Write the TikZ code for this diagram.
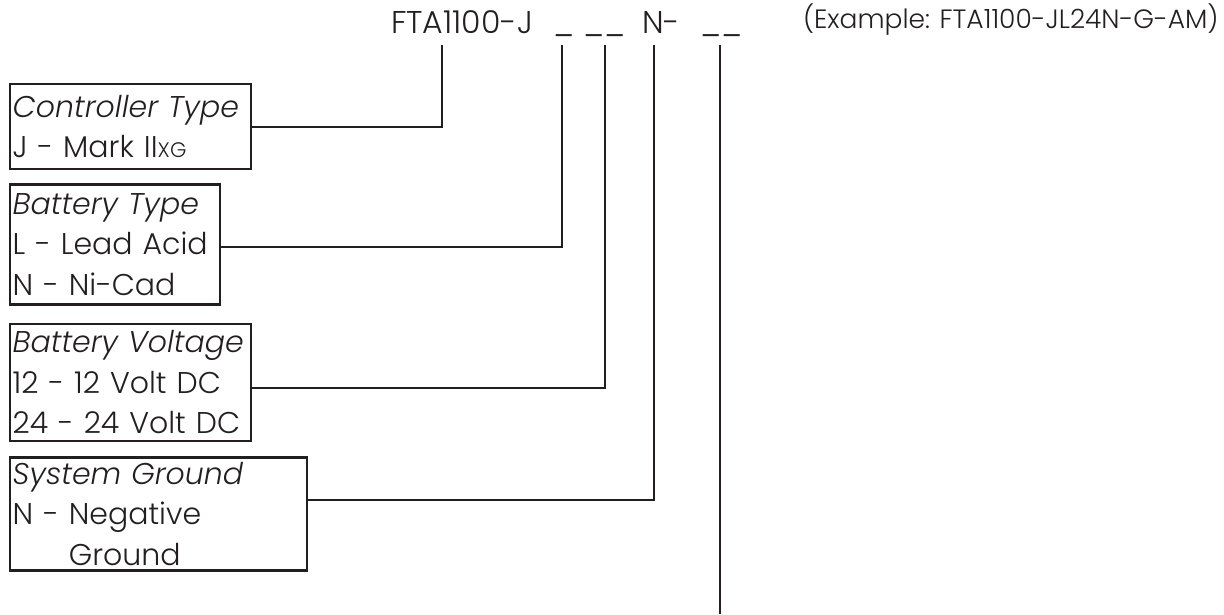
\documentclass[tikz,border=0pt]{standalone}
\usepackage{fontspec}
\setmainfont{Poppins}[UprightFont=* Light, ItalicFont=* Light Italic]
\usetikzlibrary{positioning}
\definecolor{ink}{HTML}{231F20}

\begin{document}
\begin{tikzpicture}[x=1pt, y=-1pt, color=ink, line width=2pt,
  codetext/.style={anchor=base west, inner sep=0pt, font=\fontsize{31.5}{36}\selectfont},
  optbox/.style={draw, line width=2.4pt, anchor=north west, align=left, inner xsep=2.5pt, inner ysep=0pt, font=\fontsize{30}{40.5}\selectfont}]

  \useasboundingbox (0,0) rectangle (1224,614);

  % Part number
  \node[codetext] (code) at (390,33) {FTA1100-J};
  \node[codetext] (u1) at (552,33) {\_};
  \node[codetext] (u2) at (582,33) {\_\_};
  \node[codetext] (gnd) at (641,33) {N-};
  \node[codetext] (u4) at (699,33) {\_\_};
  \node[anchor=base west, inner sep=0pt, font=\fontsize{26.5}{30}\selectfont] (example) at (802,28) {(Example: FTA1100-JL24N-G-AM)};

  % Drop points
  \coordinate (d1) at (442,45);
  \coordinate (d2) at (562,45);
  \coordinate (d3) at (605,45);
  \coordinate (d4) at (654,45);
  \coordinate (d5) at (720,45);
  \coordinate (end) at (720,614);

  % Option boxes
  \node[optbox, text width=236pt, minimum height=85pt] (ctrl) at (9,83)
    {\textit{Controller Type}\\J - Mark II{\fontsize{21}{21}\selectfont XG}};
  \node[optbox, text width=205pt, minimum height=120pt, below=13pt of ctrl.south west, anchor=north west] (btype)
    {\textit{Battery Type}\\L - Lead Acid\\N - Ni-Cad};
  \node[optbox, text width=236pt, minimum height=117pt, below=17pt of btype.south west, anchor=north west] (volt)
    {\textit{Battery Voltage}\\12 - 12 Volt DC\\24 - 24 Volt DC};
  \node[optbox, text width=292pt, minimum height=113pt, below=14pt of volt.south west, anchor=north west] (sgnd)
    {\textit{System Ground}\\N - Negative\\\phantom{N - }Ground};

  % Connectors
  \draw (ctrl.east) -| (d1);
  \draw ([yshift=-2pt]btype.east) -| (d2);
  \draw ([yshift=-5.5pt]volt.east) -| (d3);
  \draw ([yshift=13.5pt]sgnd.east) -| (d4);
  \draw (d5) -- (end);

\end{tikzpicture}
\end{document}
